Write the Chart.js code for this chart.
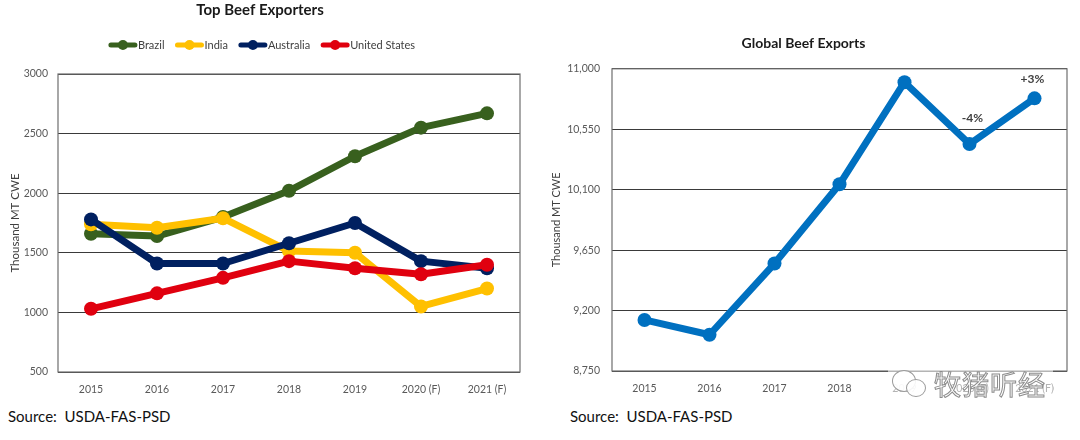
<!DOCTYPE html>
<html>
<head>
<meta charset="utf-8">
<title>Beef Exports</title>
<script src="https://cdn.jsdelivr.net/npm/chart.js@4.4.1/dist/chart.umd.min.js"></script>
<style>
  body { margin: 0; background: #fff; width: 1080px; height: 440px; position: relative; overflow: hidden; font-family: Lato, "Open Sans", sans-serif; }
  .box { position: absolute; top: 0; width: 540px; height: 400px; }
  #leftBox { left: 0; }
  #rightBox { left: 540px; }
  .source { position: absolute; top: 407px; font-size: 15px; color: #111; white-space: pre; }
  .mark { position: absolute; left: 888px; top: 366px; width: 165px; height: 36px; background: rgba(255,255,255,0.55); }
  .bubble { position: absolute; border: 1.5px solid #9a9a9a; border-radius: 50%; background: rgba(255,255,255,0.9); }
  .markText { position: absolute; left: 46px; top: -2px; font-family: "Noto Sans CJK SC", sans-serif; font-size: 27px; color: #fff; -webkit-text-stroke: 1px #8c8c8c; letter-spacing: 1px; }
</style>
</head>
<body>
<div class="box" id="leftBox"><canvas id="exportersChart" width="540" height="400"></canvas></div>
<div class="box" id="rightBox"><canvas id="globalChart" width="540" height="400"></canvas></div>
<div class="source" style="left:8px">Source:  USDA-FAS-PSD</div>
<div class="source" style="left:570px">Source:  USDA-FAS-PSD</div>
<div class="mark">
  <div class="bubble" style="left:4px;top:4px;width:22px;height:20px"></div>
  <div class="bubble" style="left:18px;top:13px;width:18px;height:16px"></div>
  <div class="markText">牧猪听经</div>
</div>
<script>
// Left chart data (thousand MT CWE)
const years = ['2015', '2016', '2017', '2018', '2019', '2020 (F)', '2021 (F)'];
const countries = ['Brazil', 'India', 'Australia', 'United States'];
const brazil = [1660, 1640, 1800, 2020, 2310, 2550, 2670];
const india = [1740, 1710, 1790, 1515, 1500, 1050, 1200];
const australia = [1780, 1410, 1410, 1580, 1750, 1430, 1370];
const unitedStates = [1030, 1160, 1290, 1430, 1370, 1320, 1400];
const countryColors = ['#38601e', '#ffc000', '#002060', '#e0000f'];

// Right chart data
const globalExports = [9130, 9020, 9550, 10140, 10900, 10440, 10780];
const changeLabels = ['', '', '', '', '', '-4%', '+3%'];
const globalTicks = [8750, 9200, 9650, 10100, 10550, 11000];

const tickColor = '#595959';
const gridColor = '#3a3a3a';
const frameColor = '#6e6e6e';

// Draw a gray frame around the plot area
const framePlugin = {
    id: 'frame',
    beforeDatasetsDraw(chart) {
        const a = chart.chartArea;
        const ctx = chart.ctx;
        ctx.save();
        ctx.strokeStyle = frameColor;
        ctx.lineWidth = 1.2;
        ctx.strokeRect(a.left, a.top, a.right - a.left, a.bottom - a.top);
        ctx.restore();
    }
};

// Legend with a line and a dot for each series
const lineLegendPlugin = {
    id: 'lineLegend',
    afterDraw(chart) {
        const ctx = chart.ctx;
        ctx.save();
        ctx.font = '11px Lato, sans-serif';
        ctx.textBaseline = 'middle';
        const y = 45;
        const sw = 28;
        const gap = 11;
        let total = 0;
        countries.forEach(name => { total += sw + 1 + ctx.measureText(name).width + gap; });
        total -= gap;
        let x = 262 - total / 2;
        countries.forEach((name, i) => {
            ctx.strokeStyle = countryColors[i];
            ctx.fillStyle = countryColors[i];
            ctx.lineWidth = 5;
            ctx.lineCap = 'round';
            ctx.beginPath();
            ctx.moveTo(x + 2, y);
            ctx.lineTo(x + sw - 2, y);
            ctx.stroke();
            ctx.beginPath();
            ctx.arc(x + sw / 2, y, 5, 0, Math.PI * 2);
            ctx.fill();
            ctx.fillStyle = '#404040';
            ctx.fillText(name, x + sw + 1, y);
            x += sw + 1 + ctx.measureText(name).width + gap;
        });
        ctx.restore();
    }
};

// Percent change labels above points (label sits a bit closer when the line rises into it)
const changeLabelPlugin = {
    id: 'changeLabels',
    afterDatasetsDraw(chart) {
        const ctx = chart.ctx;
        const meta = chart.getDatasetMeta(0);
        ctx.save();
        ctx.font = 'bold 12px Lato, sans-serif';
        ctx.fillStyle = '#404040';
        ctx.textAlign = 'center';
        ctx.textBaseline = 'middle';
        meta.data.forEach((pt, i) => {
            if (!changeLabels[i]) return;
            const rising = i > 0 && globalExports[i] > globalExports[i - 1];
            ctx.fillText(changeLabels[i], pt.x + (rising ? -2 : 3), pt.y - (rising ? 19 : 26));
        });
        ctx.restore();
    }
};

function lineSet(label, data, color, order) {
    return {
        label: label,
        data: data,
        borderColor: color,
        backgroundColor: color,
        borderWidth: 7,
        pointRadius: 7,
        pointHoverRadius: 7,
        pointBorderWidth: 0,
        borderJoinStyle: 'round',
        borderCapStyle: 'round',
        order: order,
        tension: 0
    };
}

const tickFont = { family: 'Lato, sans-serif', size: 10.5 };

new Chart(document.getElementById('exportersChart'), {
    type: 'line',
    data: {
        labels: years,
        datasets: [
            lineSet(countries[0], brazil, countryColors[0], 4),
            lineSet(countries[1], india, countryColors[1], 3),
            lineSet(countries[2], australia, countryColors[2], 2),
            lineSet(countries[3], unitedStates, countryColors[3], 1)
        ]
    },
    options: {
        responsive: false,
        animation: false,
        layout: { padding: { left: 0, right: 20, top: 0, bottom: 0 } },
        plugins: {
            legend: { display: false },
            tooltip: { enabled: false },
            title: {
                display: true,
                text: 'Top Beef Exporters',
                color: '#1a1a1a',
                font: { family: 'Lato, sans-serif', size: 15, weight: 'bold' },
                padding: { top: 1, bottom: 55 }
            }
        },
        scales: {
            x: {
                offset: true,
                grid: { display: false, drawTicks: false },
                border: { display: false },
                ticks: { color: tickColor, font: tickFont, padding: 11, maxRotation: 0 },
                afterFit(scale) { scale.height = 28; }
            },
            y: {
                min: 500,
                max: 3000,
                ticks: { stepSize: 500, color: tickColor, font: tickFont, padding: 10, callback: v => String(v) },
                grid: { color: gridColor, lineWidth: 1, drawTicks: false },
                border: { display: false },
                title: { display: true, text: 'Thousand MT CWE', color: '#404040', font: { family: 'Lato, sans-serif', size: 11.5 }, padding: { top: 8, bottom: 0 } },
                afterFit(scale) { scale.width = 58; }
            }
        }
    },
    plugins: [framePlugin, lineLegendPlugin]
});

new Chart(document.getElementById('globalChart'), {
    type: 'line',
    data: {
        labels: years,
        datasets: [lineSet('Global Beef Exports', globalExports, '#0070c0', 1)]
    },
    options: {
        responsive: false,
        animation: false,
        layout: { padding: { left: 0, right: 13, top: 0, bottom: 0 } },
        plugins: {
            legend: { display: false },
            tooltip: { enabled: false },
            title: {
                display: true,
                text: 'Global Beef Exports',
                color: '#1a1a1a',
                font: { family: 'Lato, sans-serif', size: 14, weight: 'bold' },
                padding: { top: 35, bottom: 17 }
            }
        },
        scales: {
            x: {
                offset: true,
                grid: { display: false, drawTicks: false },
                border: { display: false },
                ticks: { color: tickColor, font: tickFont, padding: 11, maxRotation: 0 },
                afterFit(scale) { scale.height = 29; }
            },
            y: {
                min: globalTicks[0],
                max: globalTicks[globalTicks.length - 1],
                afterBuildTicks(scale) { scale.ticks = globalTicks.map(v => ({ value: v })); },
                ticks: { color: tickColor, font: tickFont, padding: 12 },
                grid: { color: gridColor, lineWidth: 1, drawTicks: false },
                border: { display: false },
                title: { display: true, text: 'Thousand MT CWE', color: '#404040', font: { family: 'Lato, sans-serif', size: 11 }, padding: { top: 10, bottom: 0 } },
                afterFit(scale) { scale.width = 72; }
            }
        }
    },
    plugins: [framePlugin, changeLabelPlugin]
});
</script>
</body>
</html>
